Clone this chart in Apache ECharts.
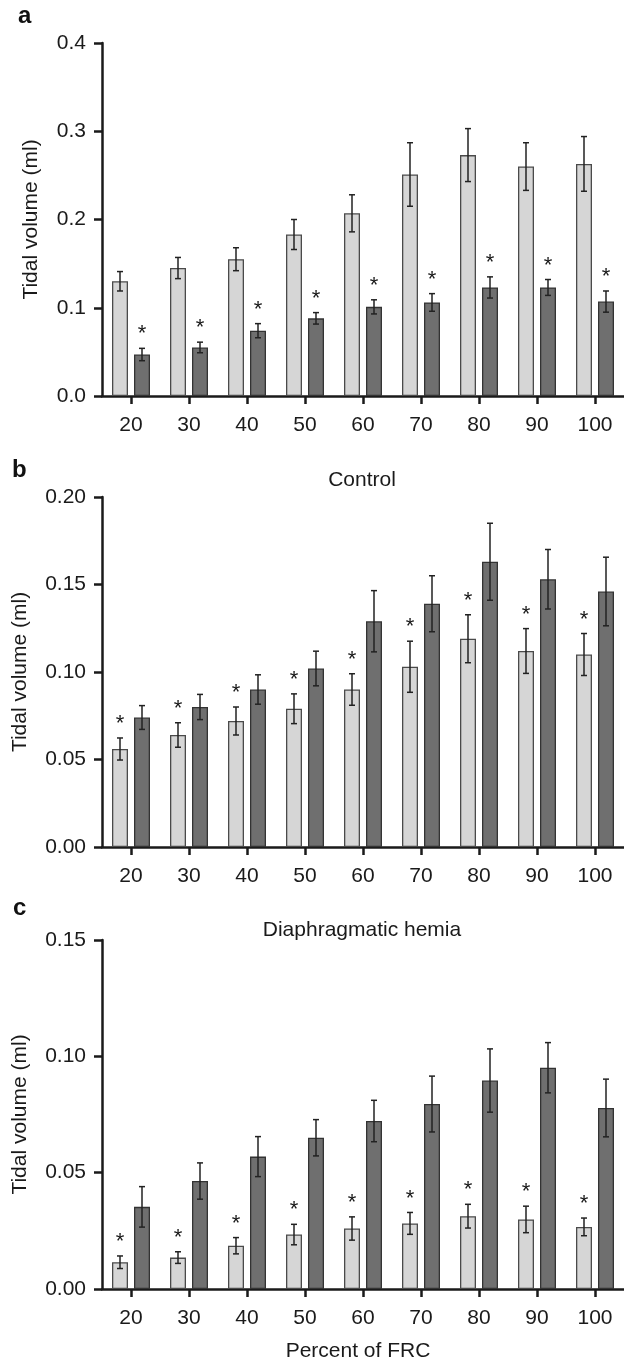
<!DOCTYPE html>
<html>
<head>
<meta charset="utf-8">
<script src="https://cdn.jsdelivr.net/npm/echarts@6/dist/echarts.min.js"></script>
<style>
  html, body { margin: 0; padding: 0; background: #fff; }
  #chart { width: 624px; height: 1363px; }
</style>
</head>
<body>
<div id="chart"></div>
<script>
// x categories (percent of FRC)
const categories = ['20', '30', '40', '50', '60', '70', '80', '90', '100'];

// panel a
const aLight = [0.130, 0.145, 0.155, 0.183, 0.207, 0.251, 0.273, 0.260, 0.263];
const aLightErr = [0.011, 0.012, 0.013, 0.017, 0.021, 0.036, 0.030, 0.027, 0.031];
const aDark = [0.047, 0.055, 0.074, 0.088, 0.101, 0.106, 0.123, 0.123, 0.107];
const aDarkErr = [0.007, 0.006, 0.008, 0.0065, 0.008, 0.010, 0.012, 0.009, 0.012];

// panel b - Control
const bLight = [0.056, 0.064, 0.072, 0.079, 0.090, 0.103, 0.119, 0.112, 0.110];
const bLightErr = [0.0063, 0.007, 0.008, 0.0085, 0.009, 0.0146, 0.0137, 0.0128, 0.012];
const bDark = [0.074, 0.080, 0.090, 0.102, 0.129, 0.139, 0.163, 0.153, 0.146];
const bDarkErr = [0.0068, 0.0072, 0.0084, 0.0099, 0.0175, 0.016, 0.022, 0.017, 0.0196];

// panel c - Diaphragmatic hemia
const cLight = [0.0115, 0.0135, 0.0186, 0.0234, 0.026, 0.0282, 0.0313, 0.0299, 0.0267];
const cLightErr = [0.0027, 0.0025, 0.0035, 0.0044, 0.005, 0.0047, 0.0051, 0.0057, 0.0038];
const cDark = [0.0353, 0.0464, 0.0569, 0.065, 0.0722, 0.0795, 0.0896, 0.0951, 0.0778];
const cDarkErr = [0.0087, 0.0078, 0.0086, 0.0078, 0.0089, 0.012, 0.0136, 0.0108, 0.0124];

// y axis ranges / tick steps
const yMax = [0.4, 0.2, 0.15];
const yStep = [0.1, 0.05, 0.05];
const yDigits = [1, 2, 2];

const FONT = '"Liberation Sans", Arial, Helvetica, sans-serif';
const TXT = '#1a1a1a';
const LIGHT = '#d6d6d6';
const DARK = '#6f6f6f';
const BAR_W = 16;
const OFF = 11; // half distance between the two bar centres
const FS = 21;

const chart = echarts.init(document.getElementById('chart'), null, { renderer: 'canvas' });

const grids = [
  { left: 102, right: -8, top: 43, height: 353 },
  { left: 102, right: -8, top: 497, height: 350 },
  { left: 102, right: -8, top: 940, height: 353 }
];

function xAxisFor(i) {
  return {
    type: 'category',
    gridIndex: i,
    data: categories,
    name: i === 2 ? 'Percent of FRC' : '',
    nameLocation: 'middle',
    nameGap: 52,
    nameTextStyle: { fontFamily: FONT, fontSize: FS, color: TXT, padding: [0, 10, 0, 0] },
    axisLine: { show: true, lineStyle: { color: '#1a1a1a', width: 2.5 } },
    axisTick: { show: true, alignWithLabel: true, length: 8, lineStyle: { color: '#1a1a1a', width: 2.5 } },
    axisLabel: { fontFamily: FONT, fontSize: FS, color: TXT, margin: 19 },
    splitLine: { show: false }
  };
}

function yAxisFor(i) {
  return {
    type: 'value',
    gridIndex: i,
    min: 0,
    max: yMax[i],
    interval: yStep[i],
    name: 'Tidal volume (ml)',
    nameLocation: 'middle',
    nameGap: i === 0 ? 60 : 71,
    nameTextStyle: { fontFamily: FONT, fontSize: FS, color: TXT },
    axisLine: { show: true, lineStyle: { color: '#1a1a1a', width: 2.5 } },
    axisTick: { show: true, length: 8, lineStyle: { color: '#1a1a1a', width: 2.5 } },
    axisLabel: {
      fontFamily: FONT, fontSize: FS, color: TXT, margin: 16,
      formatter: v => v.toFixed(yDigits[i])
    },
    splitLine: { show: false }
  };
}

function barSeries(i, data, color, border) {
  return {
    type: 'bar',
    xAxisIndex: i,
    yAxisIndex: i,
    data: data,
    barWidth: BAR_W,
    barGap: '37.5%',
    itemStyle: { color: color, borderColor: border, borderWidth: 1.3 },
    silent: true,
    z: 2
  };
}

// error bars (and significance stars) drawn on top of the bars
function errSeries(i, vals, errs, side, star) {
  return {
    type: 'custom',
    xAxisIndex: i,
    yAxisIndex: i,
    z: 5,
    silent: true,
    clip: false,
    data: vals.map((v, k) => [k, v, errs[k]]),
    renderItem: function (params, api) {
      const k = api.value(0), v = api.value(1), e = api.value(2);
      const x = api.coord([k, v])[0] + side * OFF;
      const yt = api.coord([k, v + e])[1];
      const yb = api.coord([k, v - e])[1];
      const st = { stroke: '#222', lineWidth: 1.5 };
      const kids = [
        { type: 'line', shape: { x1: x, y1: yt, x2: x, y2: yb }, style: st },
        { type: 'line', shape: { x1: x - 3, y1: yt, x2: x + 3, y2: yt }, style: st },
        { type: 'line', shape: { x1: x - 3, y1: yb, x2: x + 3, y2: yb }, style: st }
      ];
      if (star) {
        kids.push({
          type: 'text',
          style: {
            text: '*', x: x, y: yt - 3,
            align: 'center', verticalAlign: 'bottom',
            fontFamily: FONT, fontSize: 22, fill: TXT
          }
        });
      }
      return { type: 'group', children: kids };
    }
  };
}

const option = {
  animation: false,
  backgroundColor: '#fff',
  textStyle: { fontFamily: FONT },
  grid: grids,
  xAxis: [xAxisFor(0), xAxisFor(1), xAxisFor(2)],
  yAxis: [yAxisFor(0), yAxisFor(1), yAxisFor(2)],
  graphic: [
    { type: 'text', left: 18, top: 4, style: { text: 'a', fontFamily: FONT, fontWeight: 'bold', fontSize: 24, fill: '#111' } },
    { type: 'text', left: 12, top: 458, style: { text: 'b', fontFamily: FONT, fontWeight: 'bold', fontSize: 24, fill: '#111' } },
    { type: 'text', left: 13, top: 896, style: { text: 'c', fontFamily: FONT, fontWeight: 'bold', fontSize: 24, fill: '#111' } },
    { type: 'text', x: 362, y: 480, style: { text: 'Control', align: 'center', verticalAlign: 'middle', fontFamily: FONT, fontSize: FS, fill: TXT } },
    { type: 'text', x: 362, y: 930, style: { text: 'Diaphragmatic hemia', align: 'center', verticalAlign: 'middle', fontFamily: FONT, fontSize: FS, fill: TXT } }
  ],
  series: [
    barSeries(0, aLight, LIGHT, '#4a4a4a'),
    barSeries(0, aDark, DARK, '#333'),
    errSeries(0, aLight, aLightErr, -1, false),
    errSeries(0, aDark, aDarkErr, 1, true),

    barSeries(1, bLight, LIGHT, '#4a4a4a'),
    barSeries(1, bDark, DARK, '#333'),
    errSeries(1, bLight, bLightErr, -1, true),
    errSeries(1, bDark, bDarkErr, 1, false),

    barSeries(2, cLight, LIGHT, '#4a4a4a'),
    barSeries(2, cDark, DARK, '#333'),
    errSeries(2, cLight, cLightErr, -1, true),
    errSeries(2, cDark, cDarkErr, 1, false)
  ]
};

chart.setOption(option);
</script>
</body>
</html>
